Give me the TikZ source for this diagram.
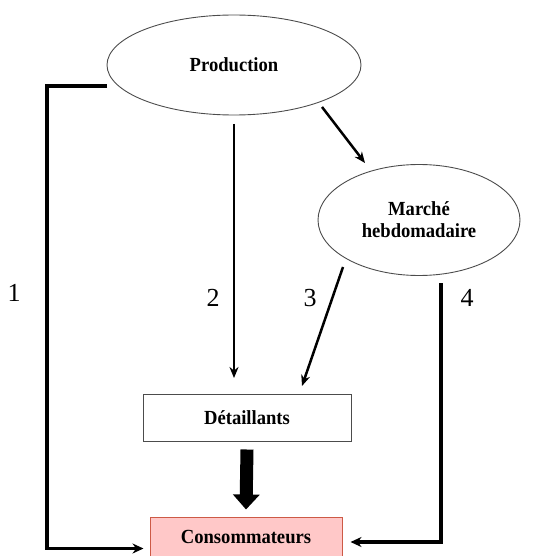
\documentclass[tikz,border=0pt]{standalone}
\usepackage{fontspec}
\setmainfont{Liberation Serif}
\newfontfamily\lblfont[FakeStretch=0.93]{Liberation Serif Bold}
\usetikzlibrary{shapes.geometric,arrows.meta}
\begin{document}
\begin{tikzpicture}[x=1pt,y=-1pt,
  lbl/.style={font=\lblfont\fontsize{20}{22}\selectfont},
  num/.style={font=\fontsize{26}{28}\selectfont},
  ell/.style={ellipse,draw=black!70,line width=0.9pt,inner sep=0pt},
  boxw/.style={rectangle,draw=black!70,line width=1pt,inner sep=0pt},
  conn/.style={line width=2.5pt,-{Stealth[length=11pt,width=9pt]}},
  connb/.style={line width=3.2pt,-{Stealth[length=11pt,width=10pt]}},
  big/.style={line width=13pt,-{Triangle[length=15pt,width=26pt]}}
]
\useasboundingbox (0,0) rectangle (547,556);
\node[ell,minimum width=254pt,minimum height=100pt,lbl] (prod) at (234,65) {Production};
\node[ell,minimum width=202pt,minimum height=111pt,lbl,align=center] (mar) at (419,220) {Marché\\hebdomadaire};
\node[rectangle,draw={rgb,255:red,205;green,90;blue,70},fill={rgb,255:red,255;green,200;blue,200},line width=1pt,minimum width=192pt,minimum height=39pt,inner sep=0pt,lbl] (cons) at (246,536.5) {Consommateurs};
\node[boxw,minimum width=208pt,minimum height=47pt,lbl] (det) at (247,417.5) {Détaillants};
% labels
\node[num] (n1) at (14,293) {1};
\node[num] (n2) at (213,298) {2};
\node[num] (n3) at (310,298) {3};
\node[num] (n4) at (467,298) {4};
% coordinates
\coordinate (p1) at (107,86);
\coordinate (c1) at (47,86);
\coordinate (p2) at (234,124);
\coordinate (d2) at (234,378);
\coordinate (pm1) at (322,107);
\coordinate (pm2) at (365,163);
\coordinate (m3) at (343,267);
\coordinate (d3) at (302,386);
\coordinate (m4) at (441,283);
% connectors
\draw[connb] (p1) -- (c1) |- ([xshift=-6pt,yshift=-12pt]cons.west);
\draw[conn] (p2) -- (d2);
\draw[conn] (pm1) -- (pm2);
\draw[conn] (m3) -- (d3);
\draw[connb] (m4) |- ([xshift=8pt,yshift=-5.5pt]cons.east);
\draw[big] ([yshift=-8pt]det.south) -- ([yshift=7pt]cons.north);
\end{tikzpicture}
\end{document}
